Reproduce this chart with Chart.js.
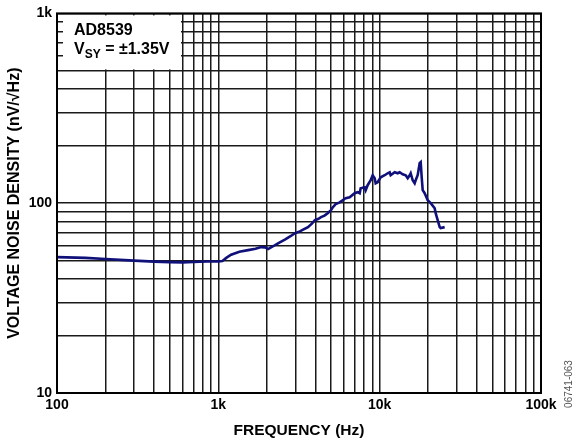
<!DOCTYPE html>
<html>
<head>
<meta charset="utf-8">
<script src="https://cdn.jsdelivr.net/npm/chart.js@4"></script>
<style>
  html, body { margin: 0; padding: 0; background: #fff; }
  #wrap { position: relative; width: 577px; height: 446px; }
</style>
</head>
<body>
<div id="wrap"><canvas id="c" width="577" height="446"></canvas></div>
<script>
// ---- Data ----
const freqHz = [100, 150, 200, 300, 400, 500, 600, 700, 850, 1000, 1060, 1120, 1200, 1350, 1530, 1700, 1843, 1950, 2036, 2200, 2344, 2600, 2800, 2985, 3200, 3400, 3594, 3800, 3970, 4150, 4330, 4550, 4761, 4990, 5113, 5337, 5649, 5896, 6156, 6516, 6998, 7306, 7516, 7625, 8074, 8190, 8425, 8795, 9051, 9312, 9445, 9719, 10144, 10740, 11210, 11535, 11700, 12390, 12930, 13305, 13890, 14500, 14920, 15350, 15570, 16020, 16480, 16720, 17200, 17700, 17960, 18220, 18480, 19010, 19850, 20720, 21930, 22240, 22890, 23550, 23880, 25290];
const noiseDensity = [52.0, 51.5, 50.8, 49.8, 49.2, 48.9, 48.8, 49.0, 49.3, 49.4, 49.6, 51.5, 53.5, 55.5, 56.6, 57.5, 58.7, 58.5, 57.3, 59.5, 61.5, 64.5, 67, 69.5, 71, 73, 74.8, 78, 81.4, 82.5, 84.4, 86, 88.6, 92, 95, 99, 101, 103.7, 106.2, 107.5, 112.9, 114.3, 112.9, 119.9, 121.4, 117.1, 124.4, 132.1, 140.4, 135.4, 127.4, 129, 137, 140.4, 143.8, 145.6, 140.4, 145.6, 143.8, 145.6, 142.1, 140.4, 135.4, 140.4, 143.8, 132.1, 127.4, 132.1, 140.4, 162.4, 164.4, 137, 117.1, 112.9, 103.7, 100, 94.1, 88.6, 81.4, 74.8, 73.9, 74.8];

const xTickValues = [100,200,300,400,500,600,700,800,900,1000,2000,3000,4000,5000,6000,7000,8000,9000,10000,20000,30000,40000,50000,60000,70000,80000,90000,100000];
const yTickValues = [10,20,30,40,50,60,70,80,90,100,200,300,400,500,600,700,800,900,1000];
const xTickLabels = {100: '100', 1000: '1k', 10000: '10k', 100000: '100k'};
const yTickLabels = {10: '10', 100: '100', 1000: '1k'};

const xTitle = 'FREQUENCY (Hz)';
const yTitle = 'VOLTAGE NOISE DENSITY (nV/\u221AHz)';
const boxLine1 = 'AD8539';
const boxLine2 = ['V', 'SY', ' = \u00B11.35V'];
const figId = '06741-063';

const FONT = 'Arial, "Liberation Sans", Helvetica, sans-serif';

const decorPlugin = {
  id: 'decor',
  afterDraw(chart) {
    const ctx = chart.ctx;
    const a = chart.chartArea;
    ctx.save();
    // annotation box
    ctx.fillStyle = '#fff';
    ctx.fillRect(a.left + 6, a.top + 2, 118, 54);
    ctx.fillStyle = '#000';
    ctx.textBaseline = 'alphabetic';
    ctx.textAlign = 'left';
    ctx.font = 'bold 16px ' + FONT;
    ctx.fillText(boxLine1, a.left + 17, a.top + 22);
    let x = a.left + 17;
    const yb = a.top + 41;
    ctx.fillText(boxLine2[0], x, yb);
    x += ctx.measureText(boxLine2[0]).width;
    ctx.font = 'bold 12px ' + FONT;
    ctx.fillText(boxLine2[1], x, yb + 4);
    x += ctx.measureText(boxLine2[1]).width;
    ctx.font = 'bold 16px ' + FONT;
    ctx.fillText(boxLine2[2], x, yb);
    // frame
    ctx.strokeStyle = '#000';
    ctx.lineWidth = 2;
    ctx.strokeRect(a.left, a.top, a.right - a.left, a.bottom - a.top);
    // figure id
    ctx.translate(569, 384);
    ctx.rotate(-Math.PI / 2);
    ctx.fillStyle = '#555';
    ctx.font = '10px ' + FONT;
    ctx.textAlign = 'center';
    ctx.textBaseline = 'middle';
    ctx.fillText(figId, 0, 0);
    ctx.restore();
  }
};

const points = freqHz.map((f, i) => ({x: f, y: noiseDensity[i]}));

new Chart(document.getElementById('c'), {
  type: 'line',
  data: {
    datasets: [{
      data: points,
      borderColor: '#10107a',
      borderWidth: 2.6,
      pointRadius: 0,
      tension: 0,
      fill: false
    }]
  },
  options: {
    responsive: false,
    animation: false,
    events: [],
    layout: { padding: { left: 0, right: 36, top: 13, bottom: 0 } },
    plugins: { legend: { display: false }, tooltip: { enabled: false } },
    scales: {
      x: {
        type: 'logarithmic',
        min: 100, max: 100000,
        afterFit(s) { s.height = 53; },
        afterBuildTicks(s) { s.ticks = xTickValues.map(v => ({value: v})); },
        grid: { color: '#1a1a1a', lineWidth: 1.5, drawTicks: false },
        border: { display: false },
        ticks: {
          autoSkip: false, maxRotation: 0, padding: 4, color: '#000',
          font: { family: FONT, size: 14, weight: 'bold' },
          callback: (v) => xTickLabels[v] || ''
        },
        title: {
          display: true, text: xTitle, color: '#000',
          font: { family: FONT, size: 15.5, weight: 'bold' },
          padding: { top: 0, bottom: 6 }
        }
      },
      y: {
        type: 'logarithmic',
        min: 10, max: 1000,
        afterFit(s) { s.width = 57; },
        afterBuildTicks(s) { s.ticks = yTickValues.map(v => ({value: v})); },
        grid: { color: '#1a1a1a', lineWidth: 1.5, drawTicks: false },
        border: { display: false },
        ticks: {
          autoSkip: false, padding: 5, color: '#000',
          font: { family: FONT, size: 14, weight: 'bold' },
          callback: (v) => yTickLabels[v] || ''
        },
        title: {
          display: true, text: yTitle, color: '#000',
          font: { family: FONT, size: 16, weight: 'bold' },
          padding: { top: 4.5, bottom: 0 }
        }
      }
    }
  },
  plugins: [decorPlugin]
});
</script>
</body>
</html>
